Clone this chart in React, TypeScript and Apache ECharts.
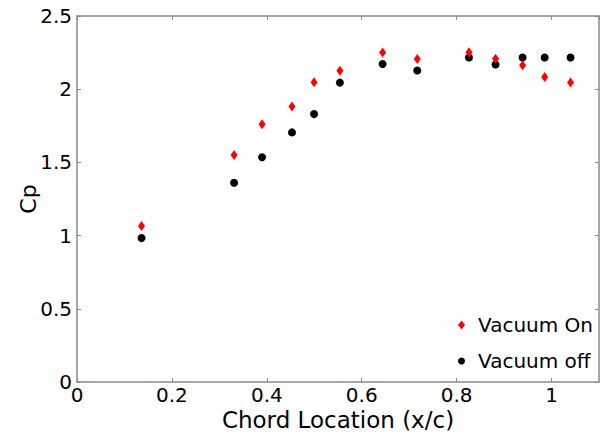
import React, { useEffect, useRef } from "react";
import * as echarts from "echarts";

const xPositions = [0.136, 0.331, 0.390, 0.453, 0.4995, 0.554, 0.644, 0.717, 0.826, 0.882, 0.939, 0.9855, 1.04];
const vacuumOn = [1.065, 1.551, 1.76, 1.882, 2.047, 2.126, 2.251, 2.206, 2.253, 2.208, 2.163, 2.083, 2.045];
const vacuumOff = [0.983, 1.361, 1.535, 1.705, 1.83, 2.045, 2.172, 2.128, 2.217, 2.169, 2.217, 2.217, 2.217];
const seriesNames = ["Vacuum On", "Vacuum off"];

const FONT = "DejaVu Sans";
const AXIS_COLOR = "#8a8a8a";

export default function App() {
  const ref = useRef<HTMLDivElement>(null);
  useEffect(() => {
    if (!ref.current) return;
    const chart = echarts.init(ref.current, null, { renderer: "svg" });
    const axisCommon = {
      axisLine: { show: true, onZero: false, lineStyle: { color: AXIS_COLOR, width: 1.5 } },
      axisTick: { show: true, inside: true, length: 4, lineStyle: { color: AXIS_COLOR, width: 1 } },
      splitLine: { show: false },
    };
    chart.setOption({
      animation: false,
      backgroundColor: "#ffffff",
      textStyle: { fontFamily: FONT },
      grid: { left: 77, top: 16, right: 2, bottom: 52 },
      xAxis: [
        {
          type: "value",
          min: 0,
          max: 1.1,
          interval: 0.2,
          position: "bottom",
          ...axisCommon,
          axisLabel: {
            color: "#000",
            fontSize: 20,
            fontFamily: FONT,
            margin: 3,
            showMaxLabel: false,
            formatter: (v: number) => (Math.abs(v - 1) < 1e-9 ? "1" : String(Math.round(v * 10) / 10)),
          },
          name: "Chord Location (x/c)",
          nameLocation: "middle",
          nameGap: 26,
          nameMoveOverlap: false,
          nameTextStyle: { color: "#000", fontSize: 23, fontFamily: FONT },
        },
        {
          type: "value",
          min: 0,
          max: 1.1,
          interval: 0.2,
          position: "top",
          ...axisCommon,
          axisLabel: { show: false },
        },
      ],
      yAxis: [
        {
          type: "value",
          min: 0,
          max: 2.5,
          interval: 0.5,
          position: "left",
          ...axisCommon,
          axisLabel: { color: "#000", fontSize: 20, fontFamily: FONT, margin: 5 },
          name: "Cp",
          nameLocation: "middle",
          nameGap: 38,
          nameMoveOverlap: false,
          nameTextStyle: { color: "#000", fontSize: 22, fontFamily: FONT },
        },
        {
          type: "value",
          min: 0,
          max: 2.5,
          interval: 0.5,
          position: "right",
          ...axisCommon,
          axisLabel: { show: false },
        },
      ],
      legend: {
        orient: "vertical",
        left: 453,
        top: 310,
        itemWidth: 7,
        itemHeight: 9,
        itemGap: 16,
        textStyle: { color: "#000", fontSize: 20, fontFamily: FONT, lineHeight: 20, padding: [0, 0, 0, 8] },
        data: [
          { name: seriesNames[0], icon: "diamond" },
          { name: seriesNames[1], icon: "circle" },
        ],
      },
      series: [
        {
          name: seriesNames[0],
          type: "scatter",
          symbol: "diamond",
          symbolSize: [7, 10],
          itemStyle: { color: "#ff0000", opacity: 1 },
          data: xPositions.map((x, i) => [x, vacuumOn[i]]),
          z: 3,
        },
        {
          name: seriesNames[1],
          type: "scatter",
          symbol: "circle",
          symbolSize: 8,
          itemStyle: { color: "#000000", opacity: 1 },
          data: xPositions.map((x, i) => [x, vacuumOff[i]]),
          z: 2,
        },
      ],
    });
    return () => chart.dispose();
  }, []);
  return <div ref={ref} style={{ width: 601, height: 436, position: "absolute", left: 0, top: 0 }} />;
}
